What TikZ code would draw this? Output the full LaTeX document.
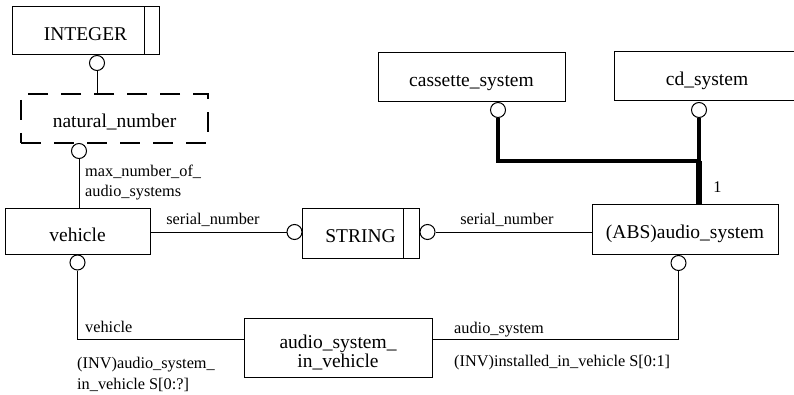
\documentclass[tikz,border=0pt]{standalone}
\usepackage{fontspec}
\setmainfont{Liberation Serif}
\newcommand\bxfont{\fontsize{19.5}{17.7}\selectfont}
\newcommand\lbfont{\fontsize{16.3}{20}\selectfont}
\begin{document}
\begin{tikzpicture}[x=1pt,y=-1pt,
  box/.style={draw, line width=1pt, inner sep=0pt, text height=19pt, text depth=0pt, font=\bxfont},
  dashedbox/.style={line width=1.5pt, dash pattern=on 20pt off 13pt},
  ring/.style={circle, draw, line width=1pt, minimum size=15pt, inner sep=0pt, fill=white},
  conn/.style={line width=1pt},
  heavy/.style={line width=4pt},
  heavier/.style={line width=6pt},
  lbl/.style={font=\lbfont, inner sep=0pt}]
\useasboundingbox (0,0) rectangle (794,395);
\clip (0,0) rectangle (794,395);

% entity and type boxes
\node[box, minimum width=147pt, minimum height=48pt] (integer) at (85.5,31) {INTEGER};
\draw[conn] ([xshift=-15pt]integer.north east) -- ([xshift=-15pt]integer.south east);
\node[box, dashedbox, minimum width=187pt, minimum height=49pt] (nat) at (114.5,118.5) {natural\_number};
\node[box, minimum width=145pt, minimum height=45pt] (veh) at (77.5,231.5) {vehicle};
\node[box, minimum width=117pt, minimum height=49pt] (str) at (360.5,233.5) {STRING};
\draw[conn] ([xshift=-16pt]str.north east) -- ([xshift=-16pt]str.south east);
\node[box, minimum width=186pt, minimum height=49pt] (abs) at (685,229.5) {(ABS)audio\_system};
\node[box, minimum width=187pt, minimum height=49pt] (cas) at (471.5,77.5) {cassette\_system};
\node[box, minimum width=186pt, minimum height=49pt] (cd) at (707,76.5) {cd\_system};
\node[box, minimum width=188pt, minimum height=59pt] (asiv) at (338,347.5) {};
\node[font=\bxfont, align=center, inner sep=0pt] (asivtxt) at ([yshift=-5pt]asiv.center) {audio\_system\_\\in\_vehicle};

% relationship rings
\node[ring] (c1) at (97,63) {};
\node[ring] (c2) at (79,151) {};
\node[ring] (c3) at (294.5,232) {};
\node[ring] (c4) at (427.5,232) {};
\node[ring] (c5) at (77.5,262.5) {};
\node[ring] (c6) at (678.5,263) {};
\node[ring] (c7) at (498,110) {};
\node[ring] (c8) at (699,110) {};

% attribute connectors
\draw[conn] (nat.north -| c1) -- (c1.south);
\draw[conn] (veh.north -| c2) -- (c2.south);
\draw[conn] (veh.east |- c3) -- (c3.west);
\draw[conn] (c4.east) -- (abs.west |- c4);
\coordinate (vb) at (77.5,339);
\draw[conn] (c5.south) -- (c5 |- vb) -- (vb -| asiv.west);
\draw[conn] (c6.south) -- (c6 |- vb) -- (vb -| asiv.east);

% supertype tree
\coordinate (jn) at (699,161);
\draw[heavy] (c7.south) -- (c7 |- jn) -- (jn);
\draw[heavy] (c8.south) -- (jn);
\draw[heavier] (jn) -- (jn |- abs.north);

% labels
\node[lbl, anchor=base west] (lmax1) at (85,176.5) {max\_number\_of\_};
\node[lbl, anchor=base west] (lmax2) at (85,196.5) {audio\_systems};
\node[lbl, anchor=base] (lsn1) at (213,224.5) {serial\_number};
\node[lbl, anchor=base] (lsn2) at (507,224.5) {serial\_number};
\node[lbl, anchor=base west] (lveh) at (85,332) {vehicle};
\node[lbl, anchor=base west] (las) at (454,333) {audio\_system};
\node[lbl, anchor=base west] (linst) at (454,366) {(INV)installed\_in\_vehicle S[0:1]};
\node[lbl, anchor=base west] (linv1) at (77,368) {(INV)audio\_system\_};
\node[lbl, anchor=base west] (linv2) at (77,389) {in\_vehicle S[0:?]};
\node[lbl, anchor=base] (lone) at (717.5,193) {1};
\end{tikzpicture}
\end{document}
